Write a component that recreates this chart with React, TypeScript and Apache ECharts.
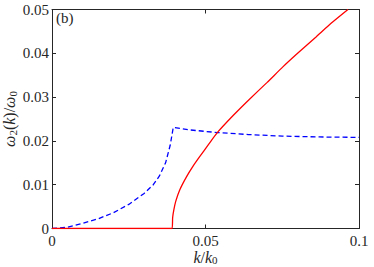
import React, { useEffect, useRef } from "react";
import * as echarts from "echarts";

const blueK = [0, 0.005, 0.01, 0.015, 0.02, 0.025, 0.03, 0.033, 0.035, 0.037, 0.0385, 0.0395, 0.045, 0.054, 0.064, 0.075, 0.087, 0.1];
const blueW = [0, 0.0003, 0.0012, 0.0022, 0.0036, 0.0055, 0.0080, 0.0100, 0.0120, 0.0150, 0.0190, 0.0231, 0.0225, 0.0219, 0.02145, 0.0211, 0.0209, 0.0208];

const redK = [0, 0.0391, 0.0393, 0.0397, 0.0403, 0.0416, 0.0438, 0.046, 0.0481, 0.051, 0.0541, 0.059, 0.064, 0.07, 0.0752, 0.08, 0.0861, 0.091, 0.0964];
const redW = [0, 0, 0.0025, 0.0043, 0.0062, 0.0088, 0.0118, 0.0143, 0.0164, 0.0192, 0.0221, 0.0258, 0.0293, 0.0333, 0.0369, 0.0400, 0.0438, 0.0469, 0.05];

const FONT = "Liberation Serif";
const AX = "#262626";

export default function App() {
  const ref = useRef<HTMLDivElement>(null);
  useEffect(() => {
    const chart = echarts.init(ref.current!, null, { renderer: "svg" });
    const tick = { show: true, inside: true, length: 4, lineStyle: { color: AX } };
    const line = { show: true, onZero: false, lineStyle: { color: AX, width: 1 } };
    const fmt = (v: number) => String(+v.toFixed(2));
    const rich = {
      i: { fontStyle: "italic", fontSize: 16, fontFamily: FONT, color: AX },
      n: { fontSize: 16, fontFamily: FONT, color: AX },
      s: { fontSize: 11, fontFamily: FONT, color: AX, padding: [6, 0, 0, 0] },
    };
    chart.setOption({
      animation: false,
      textStyle: { fontFamily: FONT },
      grid: { left: 52, right: 15, top: 9.5, bottom: 38.5, containLabel: false, outerBoundsMode: "none" },
      xAxis: [
        {
          type: "value", min: 0, max: 0.1, interval: 0.05, position: "bottom",
          axisLine: line, axisTick: tick, splitLine: { show: false },
          axisLabel: { color: AX, fontSize: 15, fontFamily: FONT, margin: 5, formatter: fmt },
          name: "{i|k}{n|/}{i|k}{s|0}", nameLocation: "middle", nameGap: 20, nameMoveOverlap: false,
          nameTextStyle: { color: AX, fontFamily: FONT, fontSize: 16, rich },
        },
        {
          type: "value", min: 0, max: 0.1, interval: 0.05, position: "top",
          axisLine: line, axisTick: tick, axisLabel: { show: false }, splitLine: { show: false },
        },
      ],
      yAxis: [
        {
          type: "value", min: 0, max: 0.05, interval: 0.01, position: "left",
          axisLine: line, axisTick: tick, splitLine: { show: false },
          axisLabel: { color: AX, fontSize: 15, fontFamily: FONT, margin: 3, formatter: fmt },
          name: "{i|ω}{s|2}{n|(}{i|k}{n|)/}{i|ω}{s|0}", nameLocation: "middle", nameGap: 34, nameRotate: 90, nameMoveOverlap: false,
          nameTextStyle: { color: AX, fontFamily: FONT, fontSize: 16, rich },
        },
        {
          type: "value", min: 0, max: 0.05, interval: 0.01, position: "right",
          axisLine: line, axisTick: tick, axisLabel: { show: false }, splitLine: { show: false },
        },
      ],
      graphic: [
        { type: "text", left: 56, top: 10, style: { text: "(b)", fontSize: 15, fontFamily: FONT, fill: AX } },
      ],
      series: [
        {
          type: "line", showSymbol: false, symbol: "none",
          data: blueK.map((k, i) => [k, blueW[i]]),
          lineStyle: { color: "#0000ff", width: 1.3, type: [5, 3] },
          z: 3,
        },
        {
          type: "line", showSymbol: false, symbol: "none", smooth: 0.2,
          data: redK.map((k, i) => [k, redW[i]]),
          lineStyle: { color: "#ff0000", width: 1.3 },
          z: 4,
        },
      ],
    });
    return () => chart.dispose();
  }, []);
  return <div ref={ref} style={{ width: 374, height: 267, position: "absolute", left: 0, top: 0 }} />;
}
